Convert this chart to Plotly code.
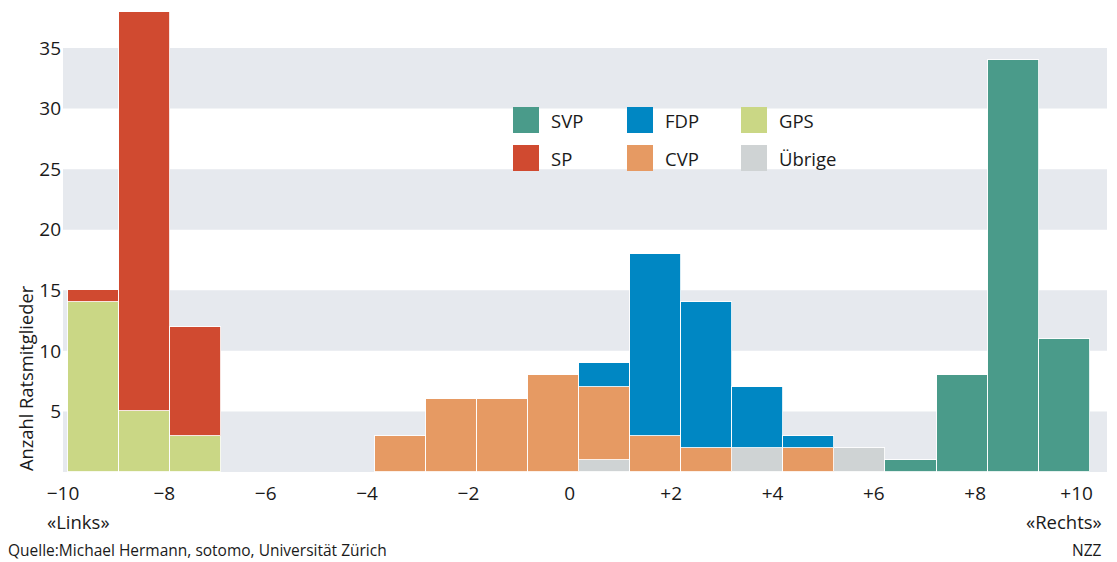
import plotly.graph_objects as go

# ---- data -------------------------------------------------------------
bin_start = [-10, -9, -8, -7, -6, -5, -4, -3, -2, -1, 0, 1, 2, 3, 4, 5, 6, 7, 8, 9]
uebrige = [0, 0, 0, 0, 0, 0, 0, 0, 0, 0, 1, 0, 0, 2, 0, 2, 0, 0, 0, 0]
gps     = [14, 5, 3, 0, 0, 0, 0, 0, 0, 0, 0, 0, 0, 0, 0, 0, 0, 0, 0, 0]
cvp     = [0, 0, 0, 0, 0, 0, 3, 6, 6, 8, 6, 3, 2, 0, 2, 0, 0, 0, 0, 0]
fdp     = [0, 0, 0, 0, 0, 0, 0, 0, 0, 0, 2, 15, 12, 5, 1, 0, 0, 0, 0, 0]
sp      = [1, 33, 9, 0, 0, 0, 0, 0, 0, 0, 0, 0, 0, 0, 0, 0, 0, 0, 0, 0]
svp     = [0, 0, 0, 0, 0, 0, 0, 0, 0, 0, 0, 0, 0, 0, 0, 0, 1, 8, 34, 11]

x_ticks = [-10, -8, -6, -4, -2, 0, 2, 4, 6, 8, 10]
x_ticktext = ["\u221210", "\u22128", "\u22126", "\u22124", "\u22122", "0",
              "+2", "+4", "+6", "+8", "+10"]
y_ticks = [5, 10, 15, 20, 25, 30, 35]

# ---- style ------------------------------------------------------------
colors = {
    "SVP": "#4a9b8a",
    "SP": "#d04a30",
    "FDP": "#0087c3",
    "CVP": "#e69a63",
    "GPS": "#cad785",
    "Übrige": "#cfd3d4",
}
band = "#e6e9ee"
TXT = "#1a1a1a"
FONT = "Open Sans"
PAGE_OFF = 8                      # default body margin of the html page
W, H = 1117 - PAGE_OFF, 562 - PAGE_OFF
# plot area in page pixels
L, R, T, B = 63, 1107, 8, 472
PX_PER_UNIT = (472 - 48) / 35.0
XR = [-10, 10.6]
YR = [0, (B - T) / PX_PER_UNIT]
BIN_OFF, BIN_W = 0.10, 1.008


def px(xp):
    return (xp - L) / (R - L)


def py(yp):
    return (B - yp) / (B - T)


pos = [BIN_OFF + BIN_W * (s + 10) - 10 + BIN_W / 2 for s in bin_start]

fig = go.Figure()
stack = [("Übrige", uebrige), ("GPS", gps), ("CVP", cvp),
         ("FDP", fdp), ("SP", sp), ("SVP", svp)]
for name, vals in stack:
    fig.add_trace(go.Bar(
        x=pos, y=[v if v else None for v in vals], name=name,
        width=BIN_W,
        marker=dict(color=colors[name],
                    line=dict(color="rgba(255,255,255,0.85)", width=1)),
        showlegend=False,
        hovertemplate=name + ": %{y}<extra></extra>",
    ))

# background bands
shapes = []
for y0 in [0, 10, 20, 30]:
    shapes.append(dict(type="rect", xref="paper", yref="y", x0=0, x1=1,
                       y0=y0, y1=y0 + 5, fillcolor=band, line_width=0,
                       layer="below"))

annotations = []
# manual legend
legend_rows = [["SVP", "FDP", "GPS"], ["SP", "CVP", "Übrige"]]
col_x = [513, 627, 741]
row_y = [120, 158]
sq = 26
for r, row in enumerate(legend_rows):
    for c, name in enumerate(row):
        shapes.append(dict(type="rect", xref="paper", yref="paper",
                           x0=px(col_x[c]), x1=px(col_x[c] + sq),
                           y0=py(row_y[r] + sq / 2), y1=py(row_y[r] - sq / 2),
                           fillcolor=colors[name], line_width=0))
        annotations.append(dict(xref="paper", yref="paper",
                                x=px(col_x[c] + sq + 10), y=py(row_y[r]),
                                text=name, showarrow=False,
                                xanchor="left", yanchor="middle",
                                font=dict(family=FONT, size=18.5, color=TXT)))

# axis title, side labels, footer
annotations += [
    dict(xref="paper", yref="paper", x=px(25), y=py(378), text="Anzahl Ratsmitglieder",
         textangle=-90, showarrow=False, xanchor="center", yanchor="middle",
         font=dict(family=FONT, size=18.3, color=TXT)),
    dict(xref="paper", yref="paper", x=px(45), y=py(521), text="«Links»",
         showarrow=False, xanchor="left", yanchor="middle",
         font=dict(family=FONT, size=18.5, color=TXT)),
    dict(xref="paper", yref="paper", x=px(1104), y=py(521), text="«Rechts»",
         showarrow=False, xanchor="right", yanchor="middle",
         font=dict(family=FONT, size=18.5, color=TXT)),
    dict(xref="paper", yref="paper", x=px(6), y=py(550),
         text="Quelle:Michael Hermann, sotomo, Universität Zürich",
         showarrow=False, xanchor="left", yanchor="middle",
         font=dict(family=FONT, size=15.5, color=TXT)),
    dict(xref="paper", yref="paper", x=px(1104), y=py(550), text="NZZ",
         showarrow=False, xanchor="right", yanchor="middle",
         font=dict(family=FONT, size=15.5, color=TXT)),
]

fig.update_layout(
    width=W, height=H,
    margin=dict(l=L - PAGE_OFF, r=W - (R - PAGE_OFF), t=T - PAGE_OFF,
                b=H - (B - PAGE_OFF), pad=0, autoexpand=False),
    barmode="stack", bargap=0,
    paper_bgcolor="white", plot_bgcolor="white",
    shapes=shapes, annotations=annotations,
    showlegend=False,
    font=dict(family=FONT, size=18.5, color=TXT),
    xaxis=dict(range=XR, tickvals=x_ticks, ticktext=x_ticktext,
               showgrid=False, zeroline=False, showline=False, ticks="",
               ticklabelstandoff=8,
               tickfont=dict(family=FONT, size=19, color=TXT),
               fixedrange=True),
    yaxis=dict(range=YR, tickvals=y_ticks, showgrid=False, zeroline=False,
               showline=False, ticks="", ticklabelstandoff=1,
               tickfont=dict(family=FONT, size=19, color=TXT),
               fixedrange=True),
)

fig.write_html("out.html")
